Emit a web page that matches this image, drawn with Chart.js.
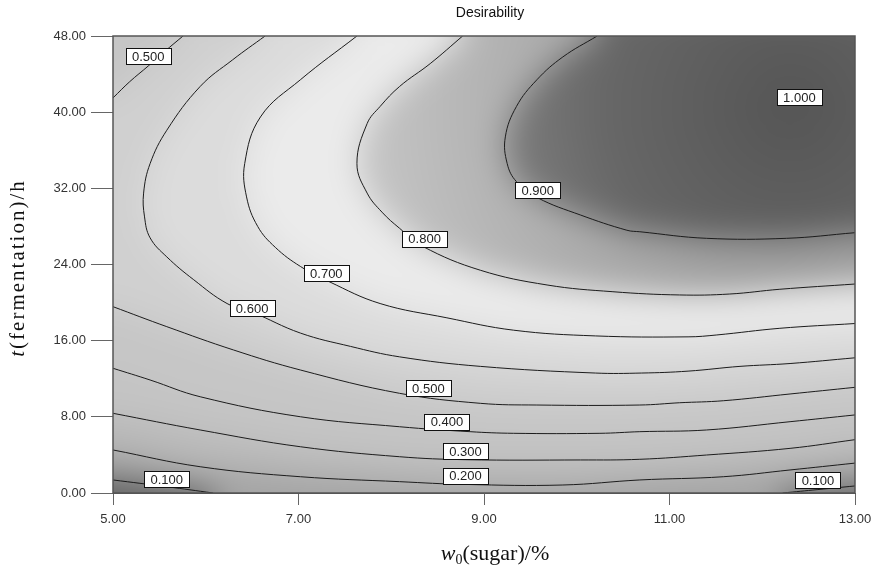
<!DOCTYPE html>
<html><head><meta charset="utf-8">
<script src="https://cdn.jsdelivr.net/npm/chart.js@4.4.0/dist/chart.umd.min.js"></script>
<style>html,body{margin:0;padding:0;background:#fff;}#wrap{width:874px;height:568px;}</style>
</head><body><div id="wrap"><canvas id="c" width="874" height="568"></canvas></div>
<script>
// ---- data ----
const xTicks = [5, 7, 9, 11, 13];
const yTicks = [0, 8, 16, 24, 32, 40, 48];

const contour010a = [[5.00,1.37],[5.58,0.66],[6.08,0.00]];
const contour010b = [[12.22,0.00],[12.60,0.36],[13.00,0.74]];
const contour020 = [[5.00,4.52],[5.94,2.76],[7.02,1.71],[8.09,1.19],[8.80,0.90],[9.85,0.84],[10.68,1.37],[11.58,1.71],[12.30,2.42],[13.00,3.14]];
const contour030 = [[5.00,8.37],[5.94,6.62],[7.02,4.86],[8.09,3.81],[8.80,3.50],[10.04,3.47],[10.68,3.54],[11.40,3.99],[12.30,4.69],[13.00,5.60]];
const contour040 = [[5.00,13.10],[5.40,11.87],[5.94,10.11],[7.02,8.01],[8.09,6.96],[8.85,6.44],[9.32,6.27],[10.25,6.27],[10.68,6.44],[11.40,6.62],[12.30,7.49],[13.00,8.20]];
const contour050a = [[5.00,41.50],[5.18,43.20],[5.38,44.85],[5.56,46.40],[5.755,48.00]];
const contour050b = [[5.00,19.57],[5.58,17.47],[6.30,15.02],[7.02,12.92],[8.09,10.47],[8.96,9.42],[9.57,9.24],[10.68,9.24],[11.11,9.48],[11.58,9.69],[12.30,10.40],[13.00,11.10]];
const contour060 = [[6.64,48.00],[6.29,45.50],[5.94,42.70],[5.58,38.10],[5.40,34.60],[5.33,31.50],[5.34,29.00],[5.40,26.80],[5.58,24.80],[5.87,22.40],[6.23,19.90],[6.50,19.00],[7.02,16.80],[7.56,15.40],[8.09,14.30],[8.96,13.30],[10.20,12.60],[10.70,12.60],[11.20,12.80],[11.76,13.30],[12.30,13.60],[13.00,14.20]];
const contour070 = [[7.63,48.00],[7.02,43.40],[6.59,39.50],[6.42,34.60],[6.44,31.10],[6.56,28.00],[6.75,25.80],[7.02,23.80],[7.33,22.20],[7.88,19.90],[8.60,18.40],[9.32,17.10],[10.20,16.50],[11.20,16.40],[11.51,16.60],[12.19,17.30],[13.00,17.80]];
const contour080 = [[8.77,48.00],[8.42,45.10],[8.09,42.70],[7.88,40.60],[7.74,38.80],[7.63,34.60],[7.74,31.50],[7.90,29.50],[8.09,27.80],[8.34,25.90],[8.96,23.40],[9.68,21.85],[10.39,21.14],[11.11,20.80],[11.65,20.90],[12.19,21.40],[13.00,21.95]];
const contour090 = [[10.22,48.00],[9.85,45.80],[9.57,43.40],[9.35,40.60],[9.23,37.40],[9.25,34.60],[9.35,32.70],[9.58,31.00],[10.04,29.20],[10.54,27.60],[10.68,27.44],[11.40,26.75],[12.26,26.75],[13.00,27.34]];

const labelText = ['0.500','0.600','0.700','0.800','0.900','1.000','0.500','0.400','0.300','0.200','0.100','0.100'];
const labelX    = [5.38, 6.50, 7.30, 8.36, 9.58, 12.40, 8.40, 8.60, 8.80, 8.80, 5.58, 12.60];
const labelY    = [45.9, 19.4, 23.1, 26.7, 31.8, 41.6, 11.0, 7.5, 4.4, 1.8, 1.45, 1.37];

// ---- chart ----
const allContours = [contour010a, contour010b, contour020, contour030, contour040, contour050a, contour050b, contour060, contour070, contour080, contour090];
const toPts = arr => arr.map(p => ({x: p[0], y: p[1]}));

function extendEnds(pts) {
  const ext = p => {
    if (p[0] <= 5.0001) return [4.4, p[1]];
    if (p[0] >= 12.9999) return [13.6, p[1]];
    if (p[1] >= 47.999) return [p[0], 51];
    if (p[1] <= 0.0001) return [p[0], -3];
    return p;
  };
  return [ext(pts[0]), ...pts, ext(pts[pts.length - 1])];
}

const shadePlugin = {
  id: 'shade',
  beforeDatasetsDraw(chart) {
    const {ctx, chartArea: a, scales: {x, y}} = chart;
    const M = 50;
    const W = Math.round(a.right - a.left) + 2 * M, H = Math.round(a.bottom - a.top) + 2 * M;
    const off = document.createElement('canvas'); off.width = W; off.height = H;
    const o = off.getContext('2d');
    const P = p => [x.getPixelForValue(p[0]) - a.left + M, y.getPixelForValue(p[1]) - a.top + M];
    const poly = (pts, fill) => {
      o.beginPath();
      pts.forEach((p, i) => { const q = P(p); i ? o.lineTo(q[0], q[1]) : o.moveTo(q[0], q[1]); });
      o.closePath(); o.fillStyle = fill; o.fill();
    };
    const TL = [4.4, 51], TR = [13.6, 51], BL = [4.4, -3], BR = [13.6, -3];
    o.fillStyle = '#a4a4a4'; o.fillRect(0, 0, W, H);
    poly([BL, ...extendEnds(contour010a)], '#5e5e5e');
    poly([...extendEnds(contour010b), BR], '#666666');
    poly([...extendEnds(contour020), TR, TL], '#bababa');
    poly([...extendEnds(contour030), TR, TL], '#c4c4c4');
    poly([...extendEnds(contour040), TR, TL], '#c6c6c6');
    const a5 = extendEnds(contour050a).slice().reverse();
    poly([...extendEnds(contour050b), TR, ...a5], '#d0d0d0');
    poly([...extendEnds(contour060), TR], '#dcdcdc');
    poly([...extendEnds(contour070), TR], '#ebebeb');
    const c = P([12.3, 40.5]);
    const g8 = o.createRadialGradient(c[0], c[1], 100, c[0], c[1], 480);
    g8.addColorStop(0, '#959595'); g8.addColorStop(1, '#cdcdcd');
    poly([...extendEnds(contour080), TR], g8);
    const g = o.createRadialGradient(c[0], c[1], 10, c[0], c[1], 330);
    g.addColorStop(0, '#565656'); g.addColorStop(0.55, '#676767'); g.addColorStop(1, '#868686');
    poly([...extendEnds(contour090), TR], g);
    ctx.save();
    ctx.beginPath(); ctx.rect(a.left, a.top, a.right - a.left, a.bottom - a.top); ctx.clip();
    ctx.filter = 'blur(16px)';
    ctx.drawImage(off, a.left - M, a.top - M);
    ctx.filter = 'none';
    ctx.restore();
  },
  afterDatasetsDraw(chart) {
    const {ctx, chartArea: a, scales: {x, y}} = chart;
    ctx.save();
    ctx.font = '13px "Liberation Sans", Arial, sans-serif';
    ctx.textAlign = 'center'; ctx.textBaseline = 'middle';
    labelText.forEach((t, i) => {
      const px = x.getPixelForValue(labelX[i]), py = y.getPixelForValue(labelY[i]);
      const w = 45, h = 16;
      ctx.fillStyle = '#ffffff';
      ctx.fillRect(Math.round(px - w / 2) + 0.5, Math.round(py - h / 2) + 0.5, w, h);
      ctx.strokeStyle = '#111'; ctx.lineWidth = 1;
      ctx.strokeRect(Math.round(px - w / 2) + 0.5, Math.round(py - h / 2) + 0.5, w, h);
      ctx.fillStyle = '#222';
      ctx.fillText(t, px, py + 1);
    });
    ctx.strokeStyle = '#555'; ctx.lineWidth = 1.5;
    ctx.strokeRect(a.left, a.top, a.right - a.left, a.bottom - a.top);
    ctx.restore();
  },
  afterDraw(chart) {
    const {ctx} = chart;
    ctx.save();
    ctx.fillStyle = '#111';
    ctx.font = '14px "Liberation Sans", Arial, sans-serif';
    ctx.textAlign = 'center'; ctx.textBaseline = 'middle';
    ctx.fillText('Desirability', 490, 13);
    const xt1 = 'w', xs = '0', xt2 = '(sugar)/%';
    const fI = 'italic 22px "Liberation Serif", "Times New Roman", serif';
    const fN = '22px "Liberation Serif", "Times New Roman", serif';
    const fS = '14px "Liberation Serif", "Times New Roman", serif';
    ctx.textAlign = 'left'; ctx.textBaseline = 'alphabetic';
    ctx.font = fI; const w1 = ctx.measureText(xt1).width;
    ctx.font = fS; const w2 = ctx.measureText(xs).width;
    ctx.font = fN; const w3 = ctx.measureText(xt2).width;
    let sx = 495 - (w1 + w2 + w3) / 2; const by = 560;
    ctx.font = fI; ctx.fillText(xt1, sx, by); sx += w1;
    ctx.font = fS; ctx.fillText(xs, sx, by + 4); sx += w2;
    ctx.font = fN; ctx.fillText(xt2, sx, by);
    ctx.translate(24, 268); ctx.rotate(-Math.PI / 2);
    const yt1 = 't', yt2 = '(fermentation)/h';
    const gI = 'italic 21px "Liberation Serif", "Times New Roman", serif';
    const gN = '21px "Liberation Serif", "Times New Roman", serif';
    ctx.letterSpacing = '2px';
    ctx.font = gI; const v1 = ctx.measureText(yt1).width;
    ctx.font = gN; const v2 = ctx.measureText(yt2).width;
    let sy = -(v1 + v2) / 2;
    ctx.font = gI; ctx.fillText(yt1, sy, 0); sy += v1;
    ctx.font = gN; ctx.fillText(yt2, sy, 0);
    ctx.restore();
  }
};

const datasets = allContours.map(c => ({
  data: toPts(c), showLine: true, borderColor: '#1c1c1c', borderWidth: 1,
  pointRadius: 0, tension: 0.4, fill: false
}));

new Chart(document.getElementById('c'), {
  type: 'scatter',
  data: {datasets},
  options: {
    responsive: false, animation: false, devicePixelRatio: 1,
    layout: {padding: {top: 36, right: 19, left: 0, bottom: 0}},
    plugins: {legend: {display: false}, tooltip: {enabled: false}, title: {display: false}},
    scales: {
      x: {
        type: 'linear', min: 5, max: 13,
        afterBuildTicks: s => { s.ticks = xTicks.map(v => ({value: v})); },
        afterFit: s => { s.height = 75; s.paddingLeft = 0; s.paddingRight = 0; },
        ticks: {callback: v => Number(v).toFixed(2), color: '#333', font: {family: '"Liberation Sans", Arial, sans-serif', size: 13}, padding: 7, maxRotation: 0, autoSkip: false},
        grid: {drawOnChartArea: false, drawTicks: true, tickLength: 12, tickColor: '#666', color: '#666'},
        border: {display: true, color: '#555', width: 1}
      },
      y: {
        type: 'linear', min: 0, max: 48,
        afterBuildTicks: s => { s.ticks = yTicks.map(v => ({value: v})); },
        afterFit: s => { s.width = 113; s.paddingTop = 0; s.paddingBottom = 0; },
        ticks: {callback: v => Number(v).toFixed(2), color: '#333', font: {family: '"Liberation Sans", Arial, sans-serif', size: 13}, padding: 5, autoSkip: false},
        grid: {drawOnChartArea: false, drawTicks: true, tickLength: 22, tickColor: '#666', color: '#666'},
        border: {display: true, color: '#555', width: 1}
      }
    }
  },
  plugins: [shadePlugin]
});
</script>
</body></html>
